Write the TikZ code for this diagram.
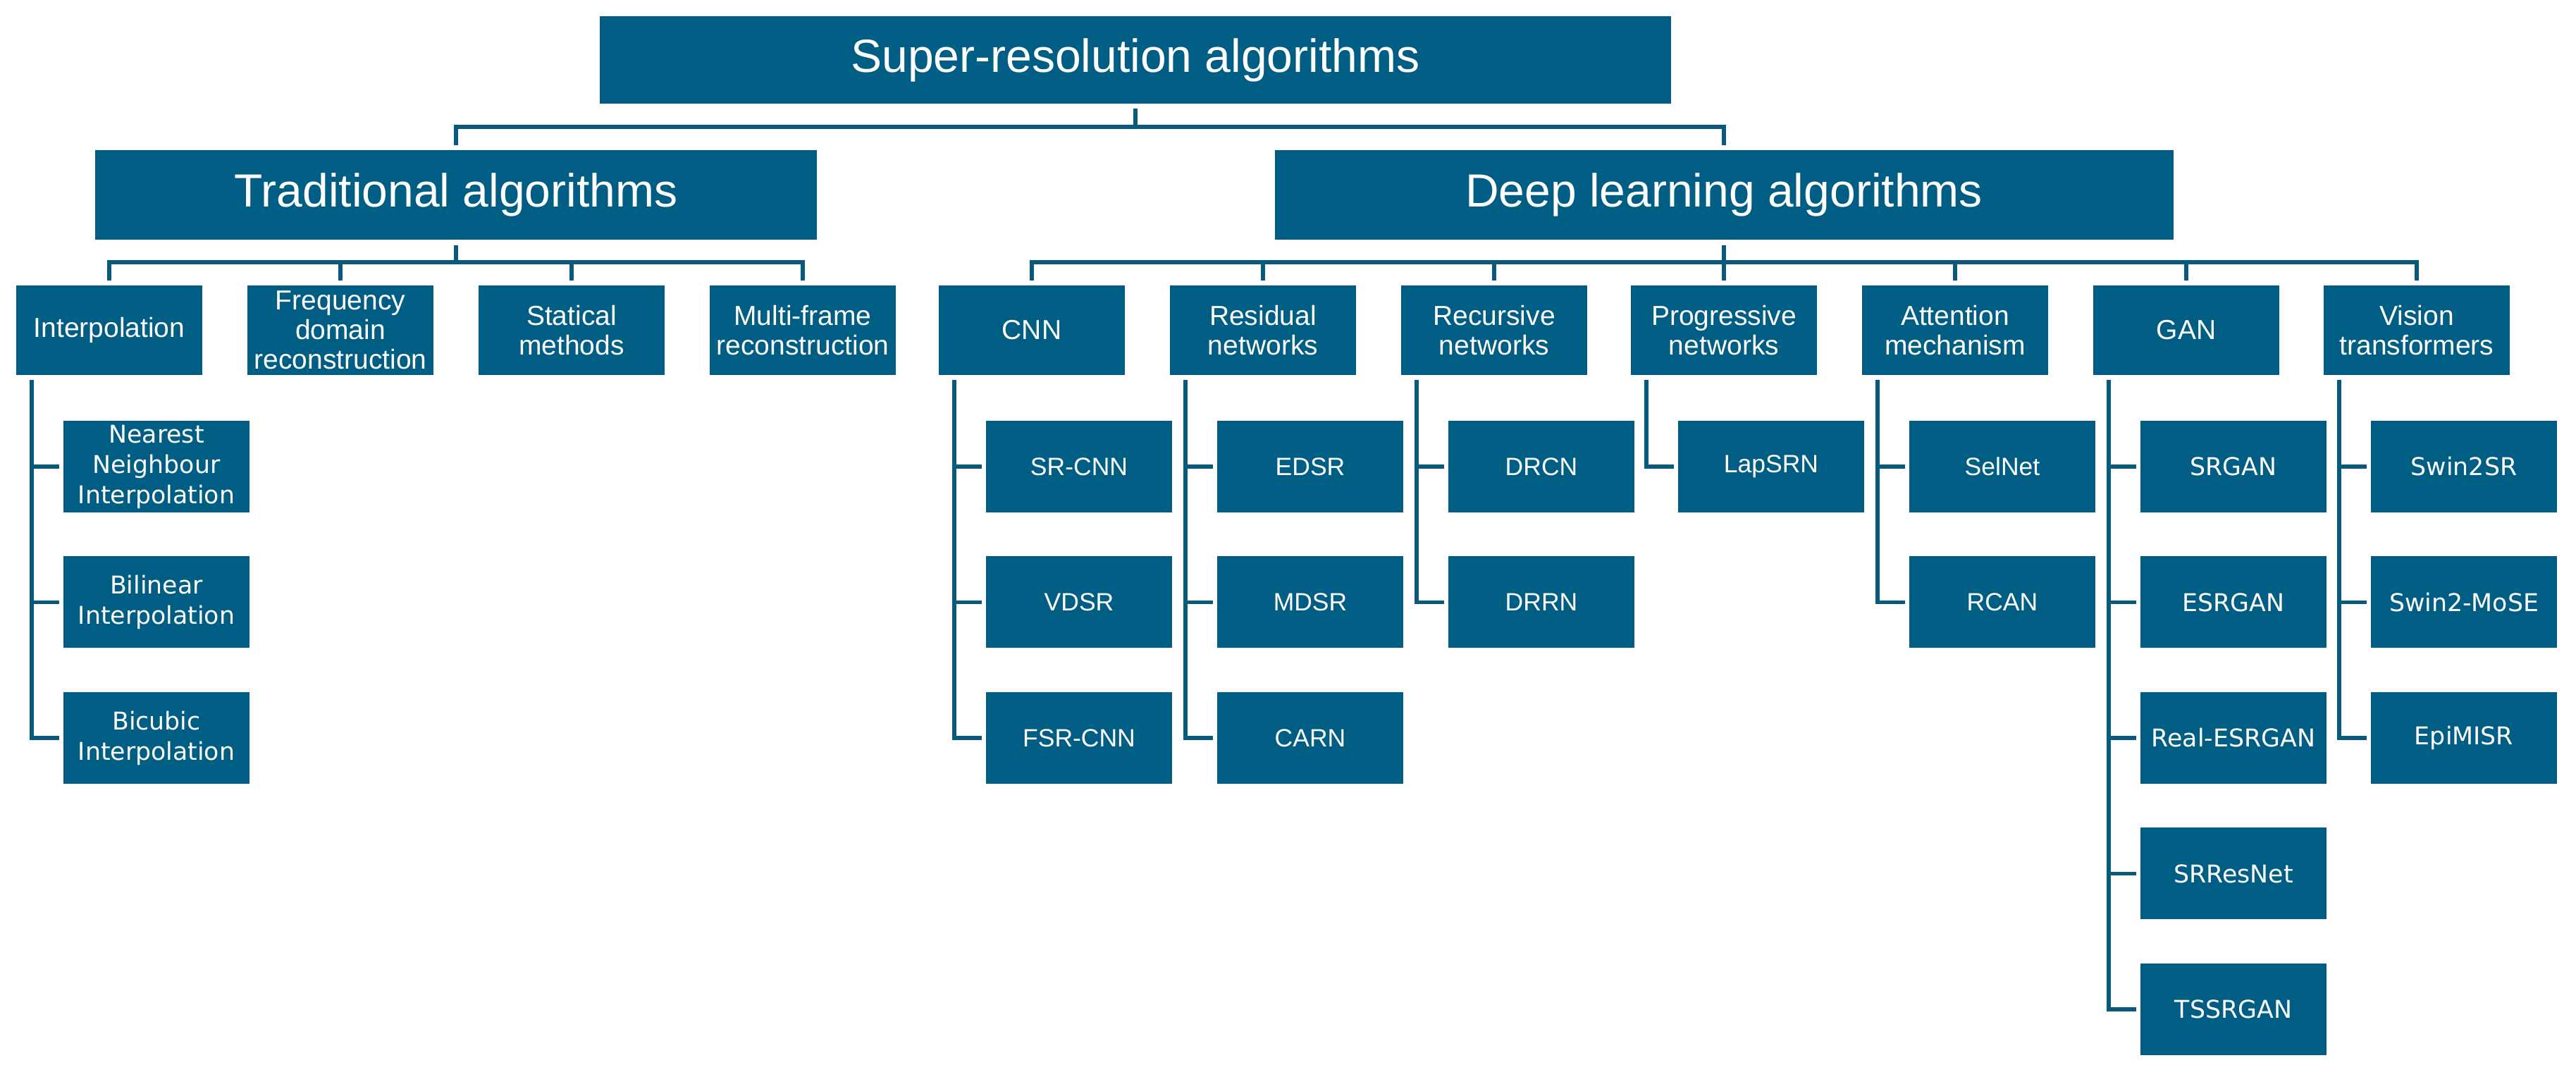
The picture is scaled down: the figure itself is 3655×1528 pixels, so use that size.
\documentclass[tikz,border=0pt]{standalone}
\usepackage{fontspec}
\setmainfont{Liberation Sans}
\newfontfamily\widefont{DejaVu Sans}
\definecolor{boxc}{RGB}{0,94,132}
\definecolor{linec}{RGB}{8,90,124}
\begin{document}
\begin{tikzpicture}[x=0.2pt,y=-0.2pt,
  box/.style={fill=boxc,text=white,inner sep=0pt,align=center},
  topbox/.style={box,minimum width=304pt,minimum height=24.8pt,font=\fontsize{13.2pt}{15pt}\selectfont},
  lvlone/.style={box,minimum height=25.4pt,font=\fontsize{13.2pt}{15pt}\selectfont},
  catbox/.style={box,minimum width=52.8pt,minimum height=25.4pt,font=\fontsize{7.8pt}{8.4pt}\selectfont},
  leafn/.style={box,minimum width=52.8pt,minimum height=26pt,font=\fontsize{7.1pt}{8.4pt}\selectfont},
  leafw/.style={box,minimum width=52.8pt,minimum height=26pt,font=\widefont\fontsize{6.95pt}{8.6pt}\selectfont},
  conn/.style={draw=linec,line width=1.1pt}]
\useasboundingbox (0,0) rectangle (3655,1528);
% top
\node[topbox] (top) at (1611,85) {Super-resolution algorithms};
\node[lvlone,minimum width=204.8pt] (trad) at (647,276.5) {Traditional algorithms};
\node[lvlone,minimum width=255pt] (deep) at (2446,276.5) {Deep learning algorithms};
% traditional categories
\node[catbox] (interp) at (155,468.5) {Interpolation};
\node[catbox] (freq) at (483,468.5) {Frequency\\domain\\reconstruction};
\node[catbox] (stat) at (811,468.5) {Statical\\methods};
\node[catbox] (multi) at (1139,468.5) {Multi-frame\\reconstruction};
% deep categories
\node[catbox] (cnn) at (1464,468.5) {CNN};
\node[catbox] (resid) at (1792,468.5) {Residual\\networks};
\node[catbox] (recur) at (2120,468.5) {Recursive\\networks};
\node[catbox] (prog) at (2446,468.5) {Progressive\\networks};
\node[catbox] (atten) at (2774,468.5) {Attention\\mechanism};
\node[catbox] (gan) at (3102,468.5) {GAN};
\node[catbox] (vit) at (3429,468.5) {Vision\\transformers};
% interpolation leaves
\node[leafw] (nn) at (222,662) {Nearest\\Neighbour\\Interpolation};
\node[leafw] (bil) at (222,854.5) {Bilinear\\Interpolation};
\node[leafw] (bic) at (222,1047) {Bicubic\\Interpolation};
% CNN leaves
\node[leafn] (srcnn) at (1531,662) {SR-CNN};
\node[leafn] (vdsr) at (1531,854.5) {VDSR};
\node[leafn] (fsrcnn) at (1531,1047) {FSR-CNN};
% residual leaves
\node[leafn] (edsr) at (1859,662) {EDSR};
\node[leafn] (mdsr) at (1859,854.5) {MDSR};
\node[leafn] (carn) at (1859,1047) {CARN};
% recursive leaves
\node[leafn] (drcn) at (2187,662) {DRCN};
\node[leafn] (drrn) at (2187,854.5) {DRRN};
% progressive leaves
\node[leafn] (lapsrn) at (2513,662) {LapSRN};
% attention leaves
\node[leafn] (selnet) at (2841,662) {SelNet};
\node[leafn] (rcan) at (2841,854.5) {RCAN};
% GAN leaves
\node[leafw] (srgan) at (3169,662) {SRGAN};
\node[leafw] (esrgan) at (3169,854.5) {ESRGAN};
\node[leafw] (resrgan) at (3169,1047) {Real-ESRGAN};
\node[leafw] (srresnet) at (3169,1239.5) {SRResNet};
\node[leafw] (tssrgan) at (3169,1432) {TSSRGAN};
% vision leaves
\node[leafw] (swinsr) at (3496,662) {Swin2SR};
\node[leafw] (swinmose) at (3496,854.5) {Swin2-MoSE};
\node[leafw] (epimisr) at (3496,1047) {EpiMISR};

% bus coordinates
\coordinate (b1) at (1611,180);
\coordinate (b2) at (647,372);
\coordinate (b3) at (2446,372);
% level 0 -> level 1
\draw[conn] ([yshift=-1.2pt]top.south) -- (b1);
\draw[conn] ([yshift=1.2pt]trad.north) |- (b1) -| ([yshift=1.2pt]deep.north);
% traditional bus
\draw[conn] ([yshift=-1.4pt]trad.south) -- (b2);
\draw[conn] ([yshift=1.2pt]interp.north) |- (b2) -| ([yshift=1.2pt]multi.north);
\draw[conn] ([yshift=1.2pt]freq.north) -- (freq.north |- b2);
\draw[conn] ([yshift=1.2pt]stat.north) -- (stat.north |- b2);
% deep bus
\draw[conn] ([yshift=-1.4pt]deep.south) -- (b3);
\draw[conn] ([yshift=1.2pt]cnn.north) |- (b3) -| ([yshift=1.2pt]vit.north);
\draw[conn] ([yshift=1.2pt]resid.north) -- (resid.north |- b3);
\draw[conn] ([yshift=1.2pt]recur.north) -- (recur.north |- b3);
\draw[conn] ([yshift=1.2pt]prog.north) -- (prog.north |- b3);
\draw[conn] ([yshift=1.2pt]atten.north) -- (atten.north |- b3);
\draw[conn] ([yshift=1.2pt]gan.north) -- (gan.north |- b3);
% leaf spines
\coordinate (vi) at ([xshift=4.6pt,yshift=-1.2pt]interp.south west);
\coordinate (vc) at ([xshift=4.6pt,yshift=-1.2pt]cnn.south west);
\coordinate (vr) at ([xshift=4.6pt,yshift=-1.2pt]resid.south west);
\coordinate (vu) at ([xshift=4.6pt,yshift=-1.2pt]recur.south west);
\coordinate (vp) at ([xshift=4.6pt,yshift=-1.2pt]prog.south west);
\coordinate (va) at ([xshift=4.6pt,yshift=-1.2pt]atten.south west);
\coordinate (vg) at ([xshift=4.6pt,yshift=-1.2pt]gan.south west);
\coordinate (vv) at ([xshift=4.6pt,yshift=-1.2pt]vit.south west);
% interpolation
\draw[conn] (vi) |- ([xshift=-1pt]bic.west);
\draw[conn] (vi |- nn.west) -- ([xshift=-1pt]nn.west);
\draw[conn] (vi |- bil.west) -- ([xshift=-1pt]bil.west);
% CNN
\draw[conn] (vc) |- ([xshift=-1pt]fsrcnn.west);
\draw[conn] (vc |- srcnn.west) -- ([xshift=-1pt]srcnn.west);
\draw[conn] (vc |- vdsr.west) -- ([xshift=-1pt]vdsr.west);
% residual
\draw[conn] (vr) |- ([xshift=-1pt]carn.west);
\draw[conn] (vr |- edsr.west) -- ([xshift=-1pt]edsr.west);
\draw[conn] (vr |- mdsr.west) -- ([xshift=-1pt]mdsr.west);
% recursive
\draw[conn] (vu) |- ([xshift=-1pt]drrn.west);
\draw[conn] (vu |- drcn.west) -- ([xshift=-1pt]drcn.west);
% progressive
\draw[conn] (vp) |- ([xshift=-1pt]lapsrn.west);
% attention
\draw[conn] (va) |- ([xshift=-1pt]rcan.west);
\draw[conn] (va |- selnet.west) -- ([xshift=-1pt]selnet.west);
% GAN
\draw[conn] (vg) |- ([xshift=-1pt]tssrgan.west);
\draw[conn] (vg |- srgan.west) -- ([xshift=-1pt]srgan.west);
\draw[conn] (vg |- esrgan.west) -- ([xshift=-1pt]esrgan.west);
\draw[conn] (vg |- resrgan.west) -- ([xshift=-1pt]resrgan.west);
\draw[conn] (vg |- srresnet.west) -- ([xshift=-1pt]srresnet.west);
% vision
\draw[conn] (vv) |- ([xshift=-1pt]epimisr.west);
\draw[conn] (vv |- swinsr.west) -- ([xshift=-1pt]swinsr.west);
\draw[conn] (vv |- swinmose.west) -- ([xshift=-1pt]swinmose.west);
\end{tikzpicture}
\end{document}
